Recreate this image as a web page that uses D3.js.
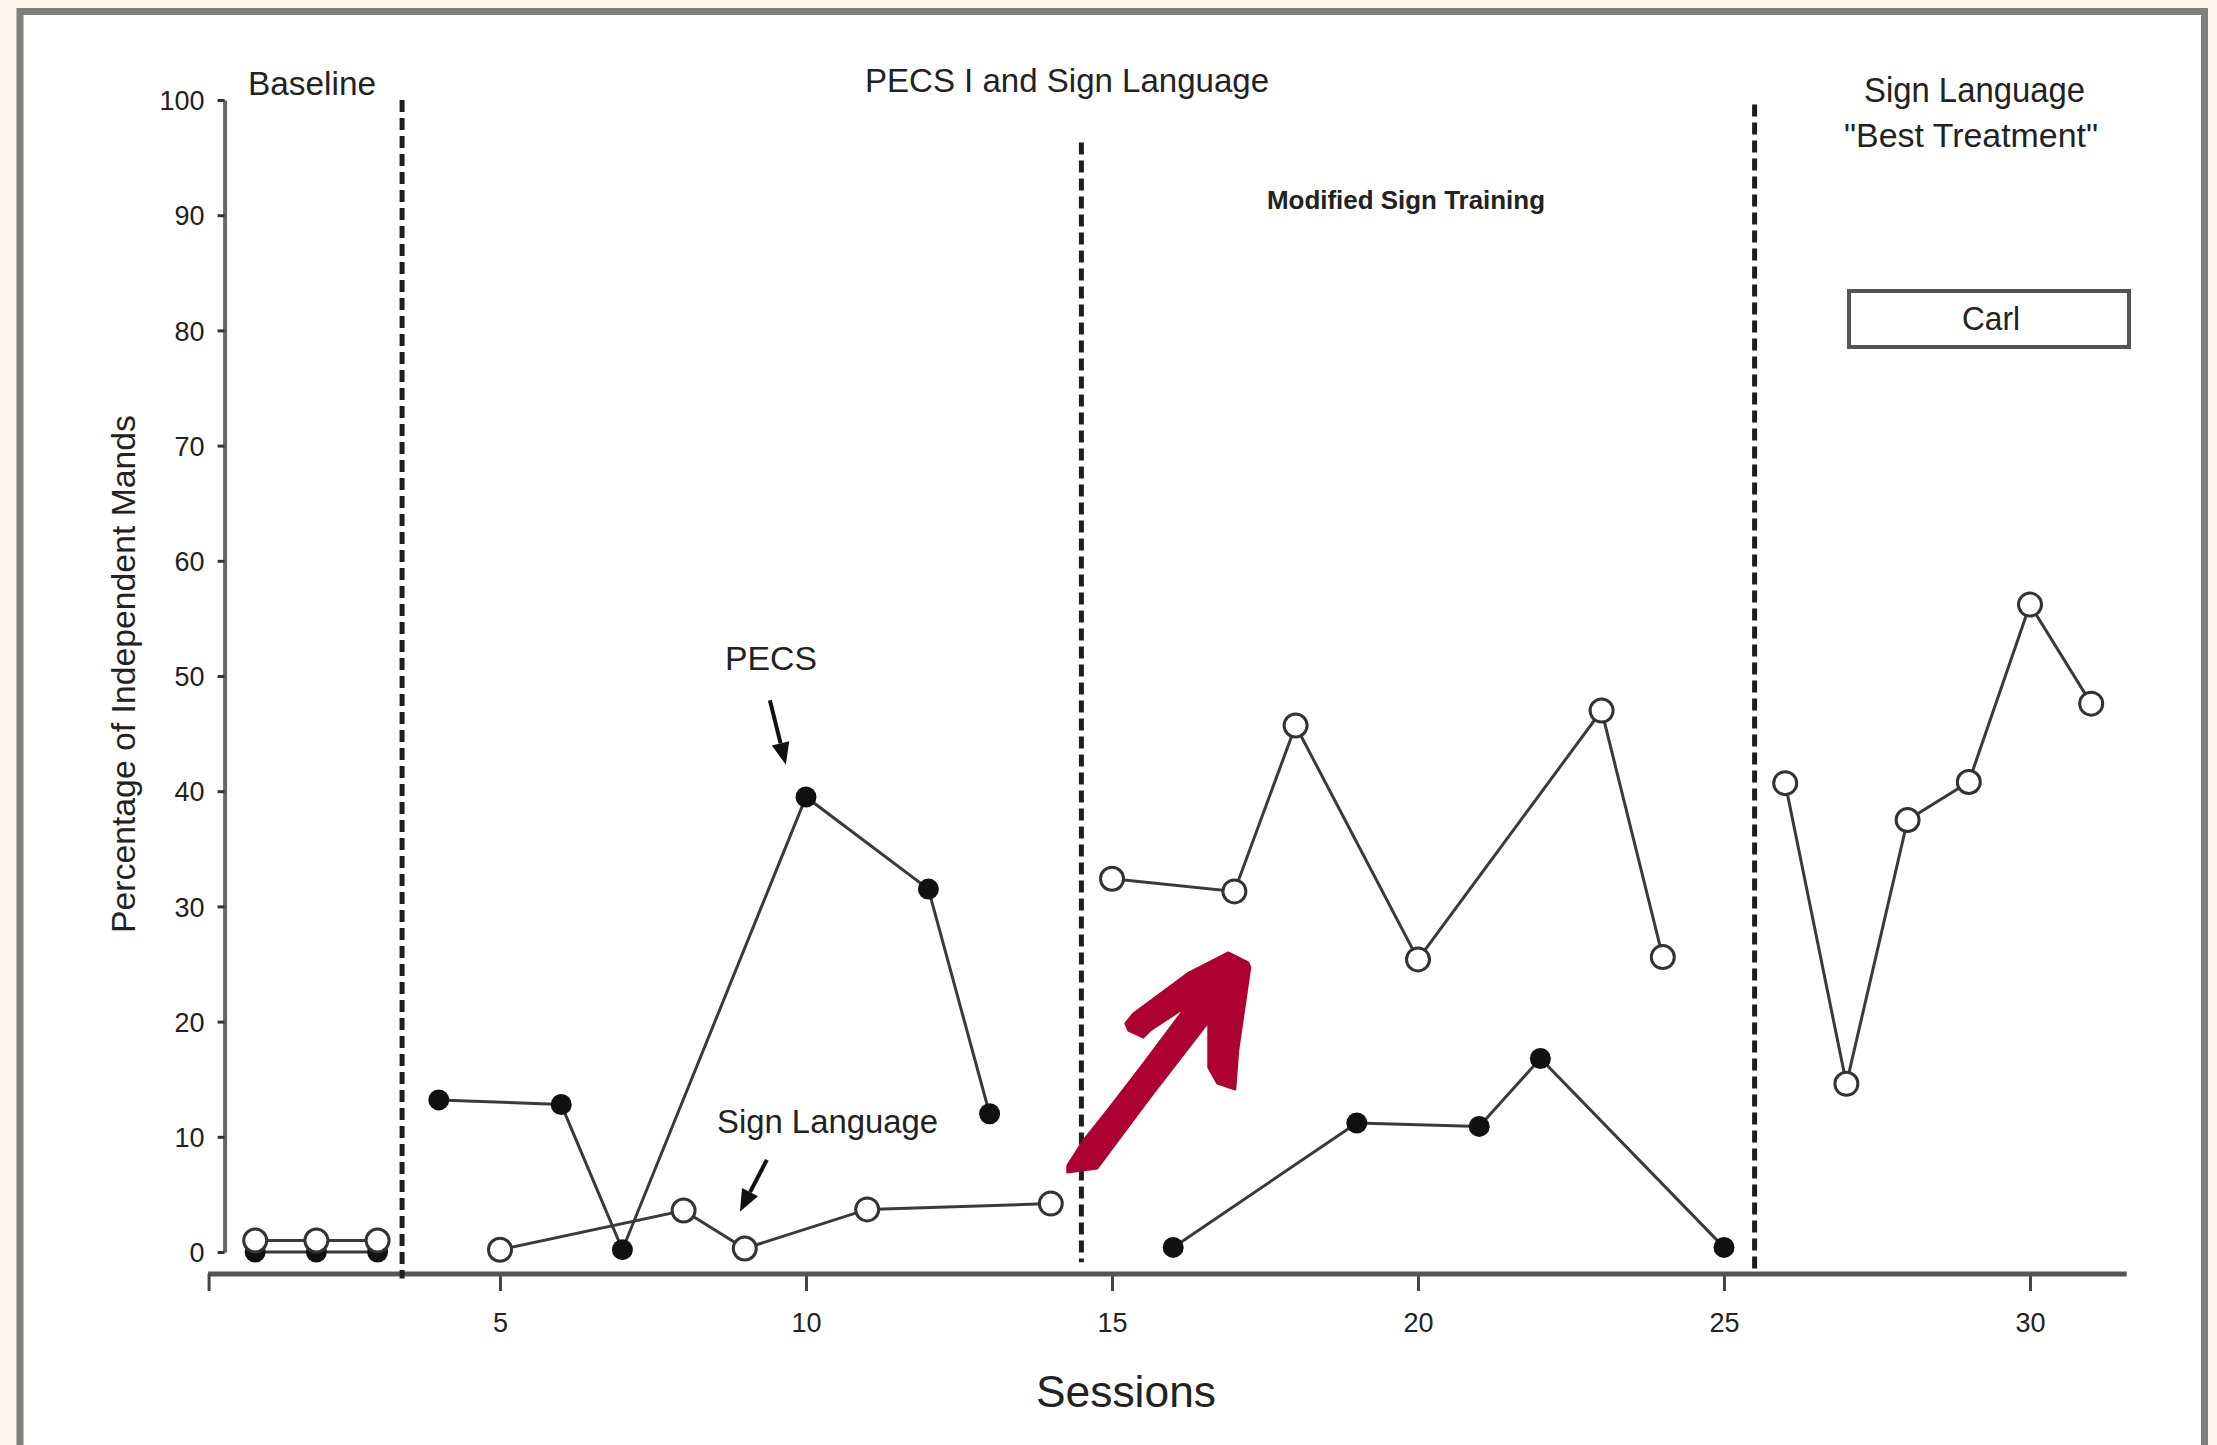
<!DOCTYPE html>
<html>
<head>
<meta charset="utf-8">
<script src="https://cdn.jsdelivr.net/npm/d3@7"></script>
<style>
    html, body { margin: 0; padding: 0; background: #fdf5ec; }
    svg { display: block; }
    text { font-family: "Liberation Sans", Arial, sans-serif; fill: #222; }
</style>
</head>
<body>
<div id="chart"></div>
<script>
// Data (sessions / percentage of independent mands)
// each inner array is one phase segment, lines are not joined across phases
const signSessions = [[1, 2, 3], [5, 8, 9, 11, 14], [15, 17, 18, 20, 23, 24], [26, 27, 28, 29, 30, 31]];
const signValues   = [[1, 1, 1], [0.2, 3.6, 0.3, 3.7, 4.2], [32.4, 31.3, 45.7, 25.4, 47.0, 25.6], [40.7, 14.6, 37.5, 40.8, 56.2, 47.6]];
const pecsSessions = [[1, 2, 3], [4, 6, 7, 10, 12, 13], [16, 19, 21, 22, 25]];
const pecsValues   = [[0, 0, 0], [13.2, 12.8, 0.2, 39.5, 31.5, 12.0], [0.4, 11.2, 10.9, 16.8, 0.4]];

// phase change lines: session position, top and bottom (in %)
const phaseSessions = [3.4, 14.5, 25.5];
const phaseTops     = [100, 96.3, 99.6];
const phaseBottoms  = [-2.3, -0.9, -1.8];

const xTicks = [5, 10, 15, 20, 25, 30];
const yTicks = [0, 10, 20, 30, 40, 50, 60, 70, 80, 90, 100];

const W = 2217, H = 1445;

const svg = d3.select('#chart').append('svg')
    .attr('width', W)
    .attr('height', H);

// outer frame
svg.append('rect')
    .attr('x', 20).attr('y', 11.5)
    .attr('width', 2184.5).attr('height', 1500)
    .attr('fill', '#fff')
    .attr('stroke', '#808080')
    .attr('stroke-width', 7);

// scales
const x = d3.scaleLinear().domain([0, 31]).range([194, 194 + 61.2 * 31]);
const y = d3.scaleLinear().domain([0, 100]).range([1252, 100]);

// y axis
const yAxisG = svg.append('g')
    .attr('transform', `translate(${x(0.5)},0)`)
    .call(d3.axisLeft(y).tickValues(yTicks).tickSize(7).tickSizeOuter(0).tickPadding(13));
yAxisG.select('.domain').attr('stroke', '#666').attr('stroke-width', 4);
yAxisG.selectAll('.tick line').attr('stroke', '#333').attr('stroke-width', 3);
yAxisG.selectAll('.tick text')
    .attr('font-size', 27)
    .attr('dy', '0.36em')
    .style('font-family', '"Liberation Sans", Arial, sans-serif')
    .attr('fill', '#222');

// x axis
const axisY = 1274;
const xAxisG = svg.append('g')
    .attr('transform', `translate(0,${axisY})`)
    .call(d3.axisBottom(x).tickValues(xTicks).tickSize(17).tickSizeOuter(0).tickPadding(22));
xAxisG.select('.domain').remove();
xAxisG.selectAll('.tick line').attr('stroke', '#444').attr('stroke-width', 3);
xAxisG.selectAll('.tick text')
    .attr('font-size', 27)
    .style('font-family', '"Liberation Sans", Arial, sans-serif')
    .attr('fill', '#222');
xAxisG.append('line')
    .attr('x1', x(0.23)).attr('x2', x(31.58))
    .attr('y1', 0).attr('y2', 0)
    .attr('stroke', '#555').attr('stroke-width', 5);
xAxisG.append('line')
    .attr('x1', x(0.23) + 1).attr('x2', x(0.23) + 1)
    .attr('y1', 0).attr('y2', 17)
    .attr('stroke', '#444').attr('stroke-width', 3);

// phase change lines
svg.selectAll('.phase')
    .data(phaseSessions)
    .enter().append('line')
    .attr('class', 'phase')
    .attr('x1', d => x(d)).attr('x2', d => x(d))
    .attr('y1', (d, i) => y(phaseTops[i]))
    .attr('y2', (d, i) => y(phaseBottoms[i]))
    .attr('stroke', '#1e1e1e')
    .attr('stroke-width', 5)
    .attr('stroke-dasharray', '12,6');

const line = d3.line().x(d => x(d[0])).y(d => y(d[1]));

function drawSeries(sessions, values, filled) {
    sessions.forEach(function(seg, i) {
        const pts = seg.map((s, j) => [s, values[i][j]]);
        svg.append('path')
            .datum(pts)
            .attr('d', line)
            .attr('fill', 'none')
            .attr('stroke', '#3a3a3a')
            .attr('stroke-width', 3);
        svg.selectAll(null)
            .data(pts)
            .enter().append('circle')
            .attr('cx', d => x(d[0]))
            .attr('cy', d => y(d[1]))
            .attr('r', filled ? 10.5 : 11.5)
            .attr('fill', filled ? '#111' : '#fff')
            .attr('stroke', filled ? 'none' : '#333')
            .attr('stroke-width', 3);
    });
}

drawSeries(pecsSessions, pecsValues, true);
drawSeries(signSessions, signValues, false);

// phase titles and other labels
function label(txt, x0, yb, size, len, opts) {
    opts = opts || {};
    return svg.append('text')
        .attr('x', x0).attr('y', yb)
        .attr('font-size', size)
        .attr('font-weight', opts.bold ? 'bold' : 'normal')
        .attr('textLength', len)
        .attr('lengthAdjust', 'spacingAndGlyphs')
        .attr('fill', '#222')
        .text(txt);
}

label('Baseline', 248, 95, 34, 128);
label('PECS I and Sign Language', 865, 92, 33, 404);
label('Modified  Sign Training', 1267, 209, 25, 278, {bold: true});
label('Sign Language', 1864, 102, 35, 221);
label('"Best Treatment"', 1844, 147, 34, 254);
label('PECS', 725, 670, 33, 92);
label('Sign Language', 717, 1133, 34, 221);
label('Sessions', 1036, 1407, 44, 180);

// participant box
svg.append('rect')
    .attr('x', 1849).attr('y', 291)
    .attr('width', 280).attr('height', 56)
    .attr('fill', 'none')
    .attr('stroke', '#555')
    .attr('stroke-width', 4);
label('Carl', 1962, 330, 33, 58);

// y axis title
svg.append('text')
    .attr('transform', 'translate(135,674) rotate(-90)')
    .attr('text-anchor', 'middle')
    .attr('font-size', 33)
    .attr('textLength', 518)
    .attr('lengthAdjust', 'spacingAndGlyphs')
    .attr('fill', '#222')
    .text('Percentage of Independent Mands');

// small black pointer arrows (session, % coordinates)
function pointer(s1, v1, s2, v2) {
    const x1 = x(s1), y1 = y(v1), x2 = x(s2), y2 = y(v2);
    const a = Math.atan2(y2 - y1, x2 - x1);
    const hl = 22, hw = 9;
    const bx = x2 - hl * Math.cos(a), by = y2 - hl * Math.sin(a);
    svg.append('line')
        .attr('x1', x1).attr('y1', y1).attr('x2', bx).attr('y2', by)
        .attr('stroke', '#111').attr('stroke-width', 4);
    const p = [
        [x2, y2],
        [bx + hw * Math.sin(a), by - hw * Math.cos(a)],
        [bx - hw * Math.sin(a), by + hw * Math.cos(a)]
    ];
    svg.append('path')
        .attr('d', 'M' + p.join('L') + 'Z')
        .attr('fill', '#111');
}
pointer(9.41, 47.9, 9.67, 42.3);
pointer(9.36, 8.0, 8.92, 3.5);

// hand drawn red arrow overlay (outline offsets from its tip)
const redArrow = [
    [-161, 220], [-131, 216], [-78, 145], [-20, 70], [-20, 115], [-11, 131], [7, 137],
    [10, 98], [22, 15], [20, 10], [10, 5], [0, 0], [-41, 21], [-95, 61], [-103, 71],
    [-100, 78], [-85, 85], [-78, 78], [-43, 55], [-85, 111], [-121, 158], [-145, 188], [-161, 213]
];
const tipX = x(16.9), tipY = y(26);
svg.append('path')
    .attr('d', d3.line().curve(d3.curveLinearClosed)(redArrow.map(p => [tipX + p[0], tipY + p[1]])))
    .attr('fill', '#ad0033')
    .attr('stroke', '#ad0033')
    .attr('stroke-width', 2)
    .attr('stroke-linejoin', 'round');
</script>
</body>
</html>
